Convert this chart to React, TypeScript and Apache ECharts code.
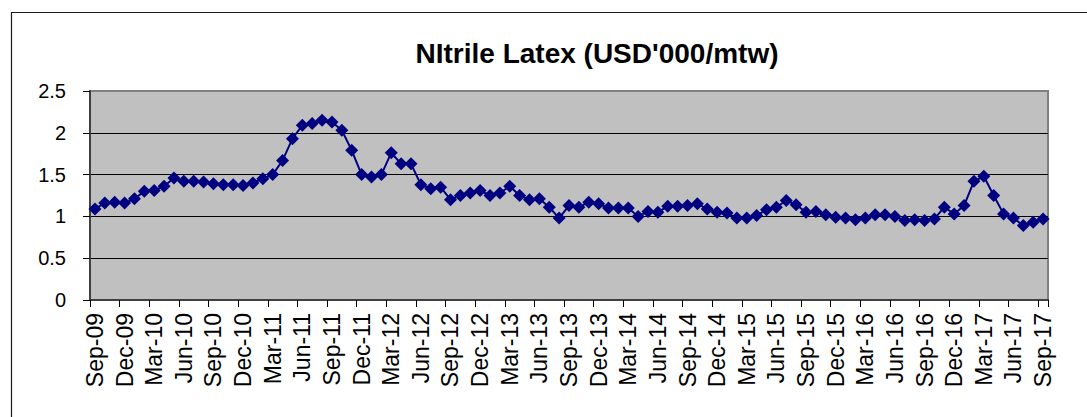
import React, { useEffect, useRef } from "react";
import * as echarts from "echarts";

const TITLE = "NItrile Latex (USD'000/mtw)";

const categories: string[] = [
  "Sep-09", "Oct-09", "Nov-09", "Dec-09", "Jan-10", "Feb-10", "Mar-10", "Apr-10", "May-10", "Jun-10", "Jul-10", "Aug-10",
  "Sep-10", "Oct-10", "Nov-10", "Dec-10", "Jan-11", "Feb-11", "Mar-11", "Apr-11", "May-11", "Jun-11", "Jul-11", "Aug-11",
  "Sep-11", "Oct-11", "Nov-11", "Dec-11", "Jan-12", "Feb-12", "Mar-12", "Apr-12", "May-12", "Jun-12", "Jul-12", "Aug-12",
  "Sep-12", "Oct-12", "Nov-12", "Dec-12", "Jan-13", "Feb-13", "Mar-13", "Apr-13", "May-13", "Jun-13", "Jul-13", "Aug-13",
  "Sep-13", "Oct-13", "Nov-13", "Dec-13", "Jan-14", "Feb-14", "Mar-14", "Apr-14", "May-14", "Jun-14", "Jul-14", "Aug-14",
  "Sep-14", "Oct-14", "Nov-14", "Dec-14", "Jan-15", "Feb-15", "Mar-15", "Apr-15", "May-15", "Jun-15", "Jul-15", "Aug-15",
  "Sep-15", "Oct-15", "Nov-15", "Dec-15", "Jan-16", "Feb-16", "Mar-16", "Apr-16", "May-16", "Jun-16", "Jul-16", "Aug-16",
  "Sep-16", "Oct-16", "Nov-16", "Dec-16", "Jan-17", "Feb-17", "Mar-17", "Apr-17", "May-17", "Jun-17", "Jul-17", "Aug-17",
  "Sep-17",
];

const prices: number[] = [
  1.09, 1.16, 1.17, 1.16, 1.21, 1.3, 1.31, 1.36, 1.46, 1.42, 1.42, 1.41,
  1.39, 1.38, 1.38, 1.37, 1.4, 1.45, 1.5, 1.67, 1.93, 2.09, 2.11, 2.15,
  2.13, 2.03, 1.79, 1.5, 1.47, 1.5, 1.76, 1.63, 1.63, 1.38, 1.33, 1.35,
  1.2, 1.25, 1.28, 1.31, 1.25, 1.28, 1.36, 1.25, 1.2, 1.21, 1.11, 0.98,
  1.13, 1.11, 1.17, 1.15, 1.1, 1.1, 1.1, 1.0, 1.06, 1.05, 1.12, 1.12,
  1.13, 1.15, 1.09, 1.05, 1.04, 0.98, 0.98, 1.01, 1.08, 1.11, 1.19, 1.14,
  1.05, 1.06, 1.02, 0.99, 0.98, 0.96, 0.98, 1.02, 1.02, 1.0, 0.95, 0.96,
  0.95, 0.97, 1.11, 1.03, 1.13, 1.42, 1.48, 1.25, 1.03, 0.98, 0.89, 0.93,
  0.97,
];

const Y_MIN = 0;
const Y_MAX = 2.5;
const Y_STEP = 0.5;

const FONT = "'Liberation Sans', Arial, sans-serif";

export default function App() {
  const ref = useRef<HTMLDivElement>(null);

  useEffect(() => {
    if (!ref.current) return;
    const chart = echarts.init(ref.current, undefined, { renderer: "svg" });
    chart.setOption({
      animation: false,
      backgroundColor: "#ffffff",
      title: {
        text: TITLE,
        left: 597,
        top: 39,
        textAlign: "center",
        padding: 0,
        textStyle: {
          fontFamily: FONT,
          fontWeight: "bold",
          fontSize: 28,
          color: "#000000",
        },
      },
      graphic: [
        {
          type: "rect",
          left: 9,
          top: 10,
          shape: { x: 0, y: 0, width: 1200, height: 600 },
          style: { fill: "none", stroke: "#1a1a1a", lineWidth: 1.2 },
          silent: true,
          z: -1,
        },
      ],
      grid: {
        left: 90,
        right: 39,
        top: 91,
        bottom: 117,
        containLabel: false,
        outerBoundsMode: "none",
        show: true,
        backgroundColor: "#c0c0c0",
        borderColor: "#808080",
        borderWidth: 2,
      },
      xAxis: {
        type: "category",
        data: categories,
        boundaryGap: true,
        axisLine: { show: true, lineStyle: { color: "#404040", width: 2 } },
        axisTick: {
          show: true,
          interval: 2,
          length: 7,
          inside: false,
          lineStyle: { color: "#000000", width: 1 },
        },
        axisLabel: {
          interval: 2,
          rotate: 90,
          margin: 13,
          fontFamily: FONT,
          fontSize: 23,
          color: "#000000",
        },
        splitLine: { show: false },
      },
      yAxis: {
        type: "value",
        min: Y_MIN,
        max: Y_MAX,
        interval: Y_STEP,
        axisLine: { show: true, lineStyle: { color: "#404040", width: 2 } },
        axisTick: {
          show: true,
          length: 7,
          inside: false,
          lineStyle: { color: "#000000", width: 1 },
        },
        axisLabel: {
          margin: 24,
          fontFamily: FONT,
          fontSize: 20,
          color: "#000000",
        },
        splitLine: {
          show: true,
          showMinLine: false,
          showMaxLine: false,
          lineStyle: { color: "#000000", width: 1 },
        },
      },
      series: [
        {
          type: "line",
          data: prices,
          symbol: "diamond",
          symbolSize: 13,
          showAllSymbol: true,
          lineStyle: { color: "#000080", width: 2 },
          itemStyle: { color: "#000080" },
        },
      ],
    });
    return () => chart.dispose();
  }, []);

  return (
    <div
      ref={ref}
      style={{ position: "fixed", left: 0, top: 0, width: 1087, height: 417 }}
    />
  );
}
